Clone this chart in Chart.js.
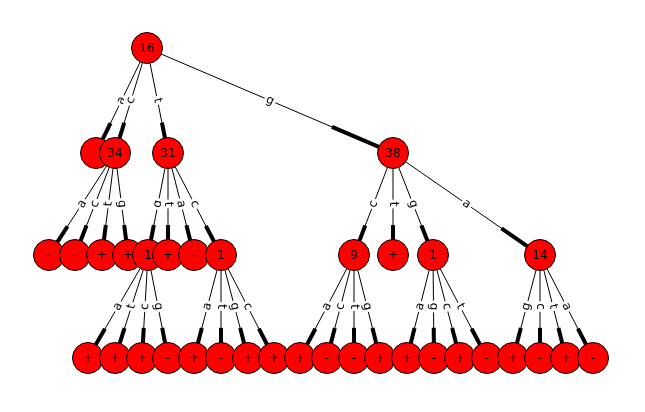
<!DOCTYPE html>
<html><head><meta charset="utf-8">
<script src="https://cdn.jsdelivr.net/npm/chart.js@4"></script>
<style>html,body{margin:0;padding:0;background:#fff}#wrap{width:645px;height:412px}</style>
</head><body><div id="wrap"><canvas id="c"></canvas></div>
<script>
// tree nodes: label, x, y (layout units)
const nodeText=['16','-','34','31','38',
  '-','-','+','+', '1','+','-','1', '9','+','1','14',
  '+','+','+','-', '+','-','+','+',
  '+','-','-','+', '+','-','+','-', '+','-','+','-'];
const nodeX=[147, 96,115,168,393,
  49,75,102,128, 148,168,194,221, 354,393,433,540,
  88,115,142,168, 194,221,248,274,
  300,327,354,380, 407,434,460,487, 513,540,566,593];
const nodeY=[48, 153,153,153,153,
  255,255,255,255, 255,255,255,255, 255,255,255,255,
  358,358,358,358, 358,358,358,358,
  358,358,358,358, 358,358,358,358, 358,358,358,358];
// edges: parent index, child index, branch label
const edgeFrom=[0,0,0,0, 2,2,2,2, 3,3,3,3, 4,4,4,4, 9,9,9,9, 12,12,12,12, 13,13,13,13, 15,15,15,15, 16,16,16,16];
const edgeTo=[1,2,3,4, 5,6,7,8, 9,10,11,12, 13,14,15,16, 17,18,19,20, 21,22,23,24, 25,26,27,28, 29,30,31,32, 33,34,35,36];
const edgeText=['a','c','t','g', 'a','c','t','g', 'g','t','a','c', 'c','t','g','a', 'a','t','c','g', 'a','t','g','c', 'a','c','t','g', 'a','g','c','t', 'g','c','t','a'];

const R=15.5;
const edgePlugin={id:'edges',
  beforeDatasetsDraw(ch){
    const g=ch.ctx,xs=ch.scales.x,ys=ch.scales.y;
    g.save();
    edgeFrom.forEach((f,i)=>{
      const t=edgeTo[i];
      const x1=xs.getPixelForValue(nodeX[f]),y1=ys.getPixelForValue(nodeY[f]);
      const x2=xs.getPixelForValue(nodeX[t]),y2=ys.getPixelForValue(nodeY[t]);
      const dx=x2-x1,dy=y2-y1,L=Math.hypot(dx,dy),ux=dx/L,uy=dy/L;
      const sx=x1+ux*R,sy=y1+uy*R,ex=x2-ux*R,ey=y2-uy*R;
      g.strokeStyle='#000';g.lineWidth=1;
      g.beginPath();g.moveTo(sx,sy);g.lineTo(ex,ey);g.stroke();
      const th=Math.max(10,L*0.22-8);
      g.lineWidth=4;g.lineCap='butt';
      g.beginPath();g.moveTo(ex-ux*th,ey-uy*th);g.lineTo(ex+ux*2,ey+uy*2);g.stroke();
      // label
      const mx=(x1+x2)/2,my=(y1+y2)/2;
      let a=Math.atan2(dy,dx);
      if(a>Math.PI/2)a-=Math.PI; if(a<-Math.PI/2)a+=Math.PI;
      g.save();g.translate(mx,my);g.rotate(a);
      g.font='12px "DejaVu Sans"';g.textAlign='center';g.textBaseline='middle';
      const w=g.measureText(edgeText[i]).width;
      g.fillStyle='#fff';g.fillRect(-w/2-2,-7,w+4,14);
      g.fillStyle='#000';g.fillText(edgeText[i],0,0);
      g.restore();
    });
    g.restore();
  },
  afterDatasetsDraw(ch){
    const g=ch.ctx,xs=ch.scales.x,ys=ch.scales.y;
    g.save();
    g.font='12px "DejaVu Sans"';g.textAlign='center';g.textBaseline='middle';g.fillStyle='#000';
    nodeText.forEach((s,i)=>g.fillText(s,xs.getPixelForValue(nodeX[i]),ys.getPixelForValue(nodeY[i])+1));
    g.restore();
  }};

new Chart(document.getElementById('c'),{
  type:'scatter',
  data:{datasets:[{data:nodeX.map((x,i)=>({x,y:nodeY[i]})),
    pointRadius:R,pointHoverRadius:R,backgroundColor:'#ff0000',borderColor:'#000',borderWidth:1,clip:false}]},
  options:{responsive:true,maintainAspectRatio:false,animation:false,
    layout:{padding:0,autoPadding:false},
    plugins:{legend:{display:false},tooltip:{enabled:false}},
    scales:{x:{type:'linear',min:0,max:645,display:false},
            y:{type:'linear',min:0,max:412,reverse:true,display:false}}},
  plugins:[edgePlugin]
});
</script></body></html>
